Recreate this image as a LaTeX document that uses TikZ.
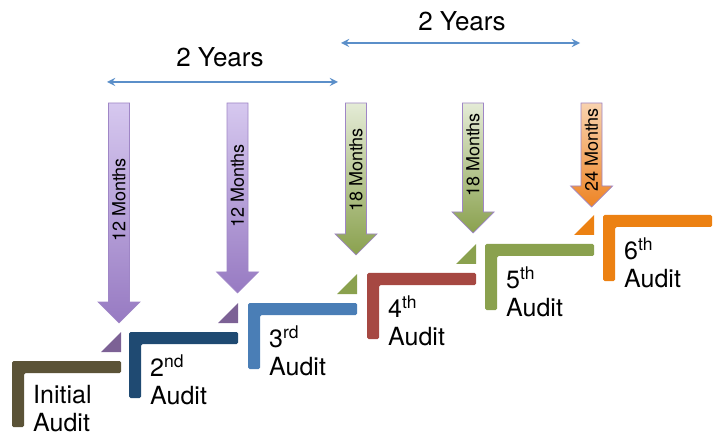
\documentclass[tikz,border=0pt]{standalone}
\usepackage{fontspec}
\setmainfont{TeX Gyre Heros}
\definecolor{initcol}{HTML}{5B5337}
\definecolor{secondcol}{HTML}{1F4A72}
\definecolor{thirdcol}{HTML}{4A7EB6}
\definecolor{fourthcol}{HTML}{A64842}
\definecolor{fifthcol}{HTML}{8AA14E}
\definecolor{sixthcol}{HTML}{EC8112}
\definecolor{monthpurple}{HTML}{7C6195}
\definecolor{spanblue}{HTML}{5B8FC9}
\definecolor{arrowedge}{HTML}{9F86C6}
\definecolor{lilactop}{HTML}{D6C8EF}
\definecolor{lilacbot}{HTML}{977AC2}
\definecolor{sagetop}{HTML}{E4EBD6}
\definecolor{peachtop}{HTML}{F8D2AE}
\definecolor{peachbot}{HTML}{EE8424}
\tikzset{
  stepbar/.style={rounded corners=1.5pt},
  steplabel/.style={anchor=north west, inner sep=0, align=left, font=\fontsize{25}{28}\selectfont},
  monthlabel/.style={rotate=90, inner sep=0, font=\fontsize{18}{20}\selectfont},
  yearlabel/.style={inner sep=0, font=\fontsize{26}{30}\selectfont},
  spanarrow/.style={<->, spanblue, line width=2.6pt},
  purplearrow/.style={top color=lilactop, bottom color=lilacbot, draw=arrowedge, line width=0.7pt},
  greenarrow/.style={top color=sagetop, bottom color=fifthcol, draw=arrowedge, line width=0.7pt},
  orangearrow/.style={top color=peachtop, bottom color=peachbot, draw=arrowedge, line width=0.7pt}
}
\begin{document}
\begin{tikzpicture}[>=stealth, x=1pt, y=-1pt]
  \useasboundingbox (0,0) rectangle (717,438);
  % time spans
  \coordinate (spanAl) at (107,82);
  \coordinate (spanAr) at (338,82);
  \coordinate (spanBl) at (341,43);
  \coordinate (spanBr) at (580,43);
  \draw[spanarrow] (spanAl) -- (spanAr);
  \draw[spanarrow] (spanBl) -- (spanBr);
  \node[yearlabel] (yearsA) at (220,57) {2 Years};
  \node[yearlabel] (yearsB) at (462,21) {2 Years};
  % interval arrows
  \shadedraw[purplearrow] (108.5,103) -- ++(21,0) -- ++(0,199) -- ++(10.5,0) -- ++(-21,21) -- ++(-21,-21) -- ++(10.5,0) -- cycle;
  \shadedraw[purplearrow] (227,103) -- ++(21,0) -- ++(0,169) -- ++(10.5,0) -- ++(-21,21) -- ++(-21,-21) -- ++(10.5,0) -- cycle;
  \shadedraw[greenarrow] (345.5,103) -- ++(21,0) -- ++(0,131) -- ++(10.5,0) -- ++(-21,21) -- ++(-21,-21) -- ++(10.5,0) -- cycle;
  \shadedraw[greenarrow] (462.5,103) -- ++(21,0) -- ++(0,109) -- ++(10.5,0) -- ++(-21,21) -- ++(-21,-21) -- ++(10.5,0) -- cycle;
  \shadedraw[orangearrow] (581,103) -- ++(21,0) -- ++(0,83) -- ++(10.5,0) -- ++(-21,21) -- ++(-21,-21) -- ++(10.5,0) -- cycle;
  \node[monthlabel] (monthsA) at (119,200) {12 Months};
  \node[monthlabel] (monthsB) at (237.5,186) {12 Months};
  \node[monthlabel] (monthsC) at (356,170) {18 Months};
  \node[monthlabel] (monthsD) at (473,155) {18 Months};
  \node[monthlabel] (monthsE) at (591.5,150) {24 Months};
  % markers
  \fill[monthpurple] (101,352) -- (121,352) -- (121,332) -- cycle;
  \fill[monthpurple] (218,323) -- (238,323) -- (238,303) -- cycle;
  \fill[fifthcol] (337,294) -- (357,294) -- (357,274) -- cycle;
  \fill[fifthcol] (456,264) -- (476,264) -- (476,244) -- cycle;
  \fill[sixthcol] (574,235) -- (594,235) -- (594,215) -- cycle;
  % audit steps
  \fill[initcol, stepbar] (12,427) |- (121,361) -- ++(0,12) -| (24,427) -- cycle;
  \fill[secondcol, stepbar] (129,398) |- (238,332) -- ++(0,12) -| (141,398) -- cycle;
  \fill[thirdcol, stepbar] (248,369) |- (357,303) -- ++(0,12) -| (260,369) -- cycle;
  \fill[fourthcol, stepbar] (367,339) |- (476,273) -- ++(0,12) -| (379,339) -- cycle;
  \fill[fifthcol, stepbar] (485,310) |- (594,244) -- ++(0,12) -| (497,310) -- cycle;
  \fill[sixthcol, stepbar] (603,281) |- (712,215) -- ++(0,12) -| (615,281) -- cycle;
  \node[steplabel] (initial) at (33,383.4) {\strut Initial\\Audit};
  \node[steplabel] (second) at (150,354.4) {\strut 2\textsuperscript{nd}\\Audit};
  \node[steplabel] (third) at (269,325.4) {\strut 3\textsuperscript{rd}\\Audit};
  \node[steplabel] (fourth) at (388,295.4) {\strut 4\textsuperscript{th}\\Audit};
  \node[steplabel] (fifth) at (506,266.4) {\strut 5\textsuperscript{th}\\Audit};
  \node[steplabel] (sixth) at (624,237.4) {\strut 6\textsuperscript{th}\\Audit};
\end{tikzpicture}
\end{document}
